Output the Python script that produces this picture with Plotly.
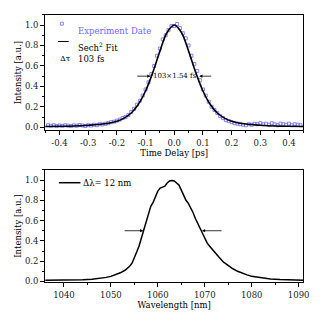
import plotly.graph_objects as go

# ---------------- data ----------------
# Autocorrelation trace (experiment points)
delay_ps = [-0.44, -0.43, -0.42, -0.41, -0.40, -0.39, -0.38, -0.37, -0.36, -0.35,
            -0.34, -0.33, -0.32, -0.31, -0.30, -0.29, -0.28, -0.27, -0.26, -0.25,
            -0.24, -0.23, -0.22, -0.21, -0.20, -0.19, -0.18, -0.17, -0.16, -0.15,
            -0.14, -0.13, -0.12, -0.11, -0.10, -0.09, -0.08, -0.07, -0.06, -0.05,
            -0.04, -0.03, -0.02, -0.01, 0.00, 0.01, 0.02, 0.03, 0.04, 0.05,
            0.06, 0.07, 0.08, 0.09, 0.10, 0.11, 0.12, 0.13, 0.14, 0.15,
            0.16, 0.17, 0.18, 0.19, 0.20, 0.21, 0.22, 0.23, 0.24, 0.25,
            0.26, 0.27, 0.28, 0.29, 0.30, 0.31, 0.32, 0.33, 0.34, 0.35,
            0.36, 0.37, 0.38, 0.39, 0.40, 0.41, 0.42, 0.43, 0.44]
exp_intensity = [0.020, 0.015, 0.020, 0.012, 0.018, 0.014, 0.020, 0.016, 0.012, 0.019,
                 0.015, 0.022, 0.018, 0.013, 0.020, 0.017, 0.025, 0.020, 0.030, 0.028,
                 0.035, 0.040, 0.050, 0.055, 0.065, 0.075, 0.090, 0.100, 0.120, 0.150,
                 0.180, 0.220, 0.260, 0.310, 0.370, 0.440, 0.520, 0.600, 0.700, 0.770,
                 0.860, 0.900, 0.950, 0.990, 0.990, 1.010, 0.970, 0.920, 0.870, 0.800,
                 0.700, 0.620, 0.550, 0.460, 0.370, 0.310, 0.250, 0.200, 0.170, 0.140,
                 0.110, 0.090, 0.070, 0.060, 0.050, 0.040, 0.035, 0.030, 0.025, 0.020,
                 0.030, 0.025, 0.035, 0.030, 0.040, 0.030, 0.035, 0.025, 0.040, 0.030,
                 0.020, 0.035, 0.030, 0.025, 0.035, 0.020, 0.030, 0.025, 0.020]

# Sech^2 fit curve
fit_delay_ps = [-0.45, -0.40, -0.35, -0.30, -0.25, -0.20, -0.175, -0.15, -0.125, -0.10,
                -0.075, -0.05, -0.025, 0.0, 0.025, 0.05, 0.075, 0.10, 0.125, 0.15,
                0.175, 0.20, 0.25, 0.30, 0.35, 0.40, 0.45]
fit_intensity = [0.008, 0.010, 0.013, 0.020, 0.032, 0.060, 0.090, 0.140, 0.225, 0.355,
                 0.535, 0.745, 0.927, 1.000, 0.927, 0.745, 0.535, 0.355, 0.225, 0.140,
                 0.090, 0.060, 0.032, 0.020, 0.013, 0.010, 0.008]

# Optical spectrum
wavelength_nm = [1036, 1038, 1040, 1042, 1044, 1046, 1048, 1049, 1050, 1051,
                 1052, 1053, 1054, 1054.5, 1055, 1055.5, 1056, 1056.5, 1057, 1057.5,
                 1058, 1058.5, 1059, 1059.5, 1060, 1060.5, 1061, 1061.5, 1062, 1062.5,
                 1063, 1063.5, 1064, 1064.5, 1065, 1065.5, 1066, 1066.5, 1067, 1067.5,
                 1068, 1068.5, 1069, 1069.5, 1070, 1070.5, 1071, 1072, 1073, 1074,
                 1075, 1076, 1077, 1078, 1079, 1080, 1082, 1084, 1086, 1088,
                 1090, 1091]
spec_intensity = [0.012, 0.012, 0.012, 0.014, 0.017, 0.022, 0.032, 0.040, 0.050, 0.065,
                  0.085, 0.110, 0.150, 0.180, 0.230, 0.290, 0.350, 0.430, 0.520, 0.600,
                  0.680, 0.740, 0.780, 0.840, 0.890, 0.920, 0.930, 0.940, 0.970, 0.990,
                  0.995, 0.990, 0.970, 0.950, 0.900, 0.850, 0.800, 0.770, 0.730, 0.680,
                  0.620, 0.570, 0.520, 0.470, 0.420, 0.380, 0.350, 0.290, 0.240, 0.190,
                  0.155, 0.125, 0.100, 0.080, 0.065, 0.050, 0.035, 0.025, 0.018, 0.014,
                  0.012, 0.012]

x1_ticks = [-0.4, -0.3, -0.2, -0.1, 0.0, 0.1, 0.2, 0.3, 0.4]
x2_ticks = [1040, 1050, 1060, 1070, 1080, 1090]
y_ticks = [0.0, 0.2, 0.4, 0.6, 0.8, 1.0]

FONT = "DejaVu Serif"
FS = 8.5
BLUE = "#6b6bff"

fig = go.Figure()
fig.add_trace(go.Scatter(x=delay_ps, y=exp_intensity, mode="markers",
                         marker=dict(symbol="square-open", size=3, color=BLUE,
                                     line=dict(width=0.8, color=BLUE)),
                         xaxis="x", yaxis="y", showlegend=False))
fig.add_trace(go.Scatter(x=fit_delay_ps, y=fit_intensity, mode="lines",
                         line=dict(color="black", width=1.6, shape="spline"),
                         xaxis="x", yaxis="y", showlegend=False))
fig.add_trace(go.Scatter(x=wavelength_nm, y=spec_intensity, mode="lines",
                         line=dict(color="black", width=1.5),
                         xaxis="x2", yaxis="y2", showlegend=False))

W, H = 328, 322
xd = [46 / W, 309 / W]
y1d = [1 - 132 / H, 1 - 15 / H]
y2d = [1 - 286 / H, 1 - 172 / H]

axis_common = dict(showline=True, linecolor="black", linewidth=1, mirror=True,
                   ticks="outside", ticklen=4, tickwidth=1, tickcolor="black",
                   showgrid=False, zeroline=False,
                   tickfont=dict(family=FONT, size=FS, color="#222"))

fig.update_layout(
    width=W, height=H, margin=dict(l=0, r=0, t=0, b=0),
    paper_bgcolor="white", plot_bgcolor="white",
    font=dict(family=FONT, size=FS, color="black"),
    xaxis=dict(domain=xd, anchor="y", range=[-0.45, 0.45], tickvals=x1_ticks,
               ticktext=[f"{v:.1f}" for v in x1_ticks],
               minor=dict(ticks="outside", ticklen=2, dtick=0.05, tick0=0, tickcolor="black"),
               title=dict(text="Time Delay [ps]", font=dict(family=FONT, size=FS), standoff=2),
               **axis_common),
    yaxis=dict(domain=y1d, anchor="x", range=[-0.03, 1.10], tickvals=y_ticks,
               ticktext=[f"{v:.1f}" for v in y_ticks],
               minor=dict(ticks="outside", ticklen=2, dtick=0.1, tick0=0, tickcolor="black"),
               title=dict(text="Intensity [a.u.]", font=dict(family=FONT, size=FS), standoff=1),
               **axis_common),
    xaxis2=dict(domain=xd, anchor="y2", range=[1036, 1091], tickvals=x2_ticks,
                minor=dict(ticks="outside", ticklen=2, dtick=5, tick0=1040, tickcolor="black"),
                title=dict(text="Wavelength [nm]", font=dict(family=FONT, size=FS), standoff=3),
                **axis_common),
    yaxis2=dict(domain=y2d, anchor="x2", range=[-0.01, 1.10], tickvals=y_ticks,
                ticktext=[f"{v:.1f}" for v in y_ticks],
                minor=dict(ticks="outside", ticklen=2, dtick=0.1, tick0=0, tickcolor="black"),
                title=dict(text="Intensity [a.u.]", font=dict(family=FONT, size=FS), standoff=1),
                **axis_common),
)

# FWHM arrows and labels
arrow = dict(showarrow=True, arrowhead=2, arrowsize=0.8, arrowwidth=0.8, arrowcolor="black", text="")
fig.add_annotation(x=-0.083, y=0.5, ax=-0.134, ay=0.5, xref="x", yref="y", axref="x", ayref="y", **arrow)
fig.add_annotation(x=0.087, y=0.5, ax=0.134, ay=0.5, xref="x", yref="y", axref="x", ayref="y", **arrow)
fig.add_annotation(x=0.003, y=0.5, xref="x", yref="y", text="103×1.54 fs", showarrow=False,
                   font=dict(family=FONT, size=7, color="black"))
fig.add_annotation(x=1056.9, y=0.5, ax=1052.6, ay=0.5, xref="x2", yref="y2", axref="x2", ayref="y2", **arrow)
fig.add_annotation(x=1069.4, y=0.5, ax=1073.9, ay=0.5, xref="x2", yref="y2", axref="x2", ayref="y2", **arrow)

# Legend-like labels, top panel
fig.add_shape(type="rect", xref="paper", yref="paper",
              x0=61.5 / W, x1=64.5 / W, y0=1 - 25.5 / H, y1=1 - 22.5 / H,
              line=dict(color=BLUE, width=0.8))
fig.add_annotation(x=77 / W, y=1 - 24 / H, xref="paper", yref="paper", xanchor="left",
                   text="Experiment Date", showarrow=False, font=dict(family=FONT, size=FS, color=BLUE))
fig.add_shape(type="line", xref="paper", yref="paper",
              x0=59 / W, x1=70 / W, y0=1 - 42 / H, y1=1 - 42 / H, line=dict(color="black", width=1))
fig.add_annotation(x=77 / W, y=1 - 39 / H, xref="paper", yref="paper", xanchor="left",
                   text="Sech<sup>2</sup> Fit", showarrow=False, font=dict(family=FONT, size=FS, color="black"))
fig.add_annotation(x=59 / W, y=1 - 53 / H, xref="paper", yref="paper", xanchor="left",
                   text="Δτ", showarrow=False, font=dict(family=FONT, size=8, color="black"))
fig.add_annotation(x=77 / W, y=1 - 53 / H, xref="paper", yref="paper", xanchor="left",
                   text="103 fs", showarrow=False, font=dict(family=FONT, size=FS, color="black"))

# Legend-like label, bottom panel
fig.add_shape(type="line", xref="paper", yref="paper",
              x0=60 / W, x1=82 / W, y0=1 - 185 / H, y1=1 - 185 / H, line=dict(color="black", width=1.5))
fig.add_annotation(x=83 / W, y=1 - 185 / H, xref="paper", yref="paper", xanchor="left",
                   text="Δλ= 12 nm", showarrow=False, font=dict(family=FONT, size=FS, color="black"))

fig.write_html("out.html")
